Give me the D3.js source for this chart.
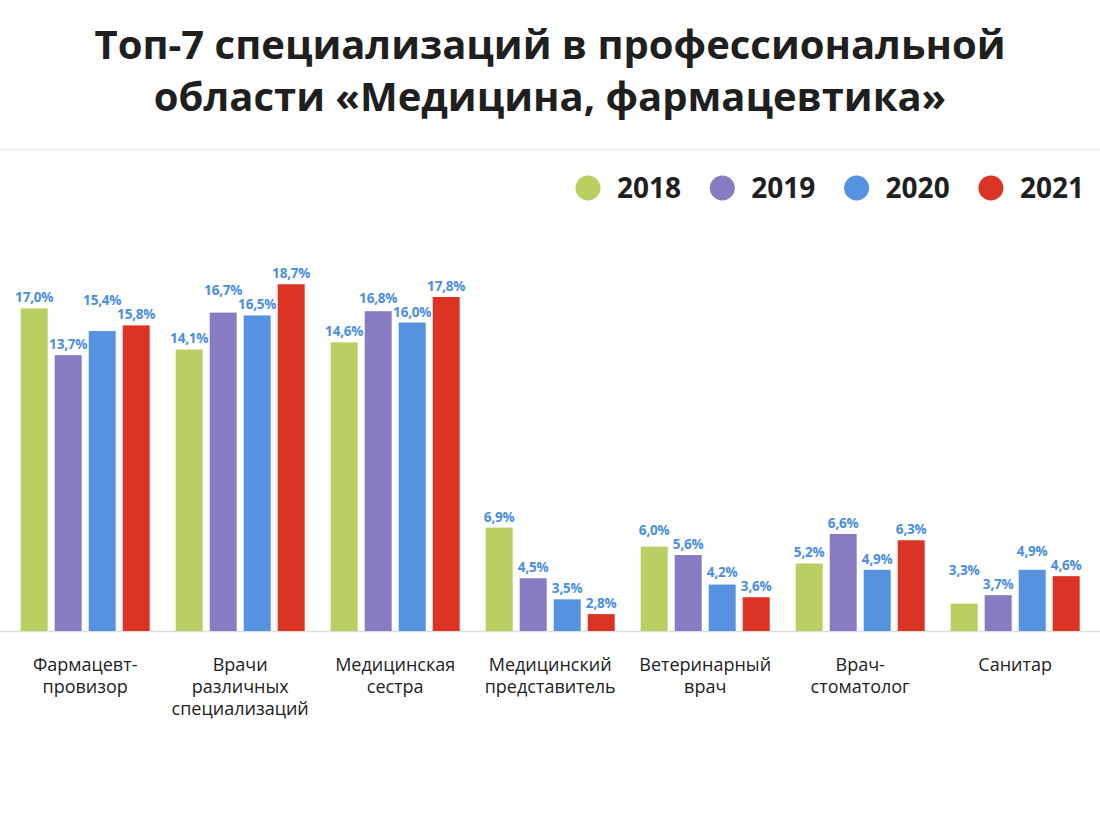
<!DOCTYPE html>
<html>
<head>
<meta charset="utf-8">
<script src="https://cdn.jsdelivr.net/npm/d3@7"></script>
<style>
  html, body { margin: 0; padding: 0; background: #fff; }
  svg { display: block; }
  text { font-family: "Open Sans", "Lato", sans-serif; }
</style>
</head>
<body>
<svg id="chart" width="1100" height="837"></svg>
<script>
// ---- data ----
const titleLines = ["Топ-7 специализаций в профессиональной", "области «Медицина, фармацевтика»"];
const categories = ["Фармацевт-провизор", "Врачи различных специализаций", "Медицинская сестра",
  "Медицинский представитель", "Ветеринарный врач", "Врач-стоматолог", "Санитар"];
const categoryLines = [
  ["Фармацевт-", "провизор"],
  ["Врачи", "различных", "специализаций"],
  ["Медицинская", "сестра"],
  ["Медицинский", "представитель"],
  ["Ветеринарный", "врач"],
  ["Врач-", "стоматолог"],
  ["Санитар"]
];
const years = ["2018", "2019", "2020", "2021"];
const values2018 = [17.0, 14.1, 14.6, 6.9, 6.0, 5.2, 3.3];
const values2019 = [13.7, 16.7, 16.8, 4.5, 5.6, 6.6, 3.7];
const values2020 = [15.4, 16.5, 16.0, 3.5, 4.2, 4.9, 4.9];
const values2021 = [15.8, 18.7, 17.8, 2.8, 3.6, 6.3, 4.6];
const seriesValues = [values2018, values2019, values2020, values2021];
const colors = ["#b9cf62", "#897bc1", "#5593e0", "#db3424"];

// ---- layout ----
const W = 1100, H = 837;
const baseY = 631;
const svg = d3.select("#chart");

// title
svg.append("g").selectAll("text").data(titleLines).join("text")
  .attr("x", W / 2)
  .attr("y", (d, i) => 59 + i * 52)
  .attr("text-anchor", "middle")
  .attr("font-size", 40)
  .attr("font-weight", 700)
  .attr("fill", "#1f1f1f")
  .text(d => d);

// separator
svg.append("line").attr("x1", 0).attr("x2", W).attr("y1", 149.5).attr("y2", 149.5)
  .attr("stroke", "#e6e6e6").attr("stroke-width", 1.5);

// legend
const legend = svg.append("g").selectAll("g").data(years).join("g")
  .attr("transform", (d, i) => `translate(${588 + i * 134.3},188)`);
legend.append("circle").attr("r", 12.5).attr("fill", (d, i) => colors[i]);
legend.append("text").attr("x", 29).attr("y", 10)
  .attr("font-size", 28).attr("font-weight", 700).attr("fill", "#1f1f1f")
  .text(d => d);

// scales
const x0 = d3.scaleBand().domain(categories).range([7.7, 7.7 + 7 * 155])
  .paddingInner(26 / 155).paddingOuter(13 / 155);
const x1 = d3.scaleBand().domain(years).range([0, x0.bandwidth()])
  .paddingInner(0.206).paddingOuter(0);
// the source chart's bar heights follow a non-uniform (piecewise) value scale
const y = d3.scaleLinear().domain([2.0, 7.0, 13.5, 19.0]).range([baseY, 525.5, 358, 280]).clamp(true);

// baseline
svg.append("line").attr("x1", 0).attr("x2", W).attr("y1", baseY + 0.5).attr("y2", baseY + 0.5)
  .attr("stroke", "#dedede").attr("stroke-width", 1.5);

// bars
const rows = [];
categories.forEach((c, ci) => years.forEach((yr, si) => rows.push({ c, ci, yr, si, v: seriesValues[si][ci] })));

// label positions: just above bars, nudged up when neighbouring labels collide
rows.forEach(d => { d.ly = y(d.v) - 6; });
categories.forEach((c, ci) => {
  const g = rows.filter(d => d.ci === ci);
  for (let i = g.length - 2; i >= 0; i--) {
    const a = g[i], b = g[i + 1];
    if (Math.abs(a.ly - b.ly) < 13) a.ly = Math.min(a.ly, b.ly - 14);
  }
});

const bars = svg.append("g").selectAll("g").data(rows).join("g");
bars.append("rect")
  .attr("x", d => x0(d.c) + x1(d.yr))
  .attr("y", d => y(d.v))
  .attr("width", x1.bandwidth())
  .attr("height", d => baseY - y(d.v))
  .attr("fill", d => colors[d.si]);
bars.append("text")
  .attr("x", d => x0(d.c) + x1(d.yr) + x1.bandwidth() / 2)
  .attr("y", d => d.ly)
  .attr("text-anchor", "middle")
  .attr("font-size", 13.5).attr("font-weight", 700).attr("fill", "#4a8ee0")
  .attr("letter-spacing", -0.2)
  .text(d => d.v.toFixed(1).replace(".", ",") + "%");

// category labels
const cat = svg.append("g").selectAll("text").data(categories).join("text")
  .attr("text-anchor", "middle")
  .attr("font-size", 18).attr("fill", "#222");
cat.each(function (d, i) {
  d3.select(this).selectAll("tspan").data(categoryLines[i]).join("tspan")
    .attr("x", x0(d) + x0.bandwidth() / 2)
    .attr("y", (t, j) => 671 + j * 22)
    .text(t => t);
});
</script>
</body>
</html>
